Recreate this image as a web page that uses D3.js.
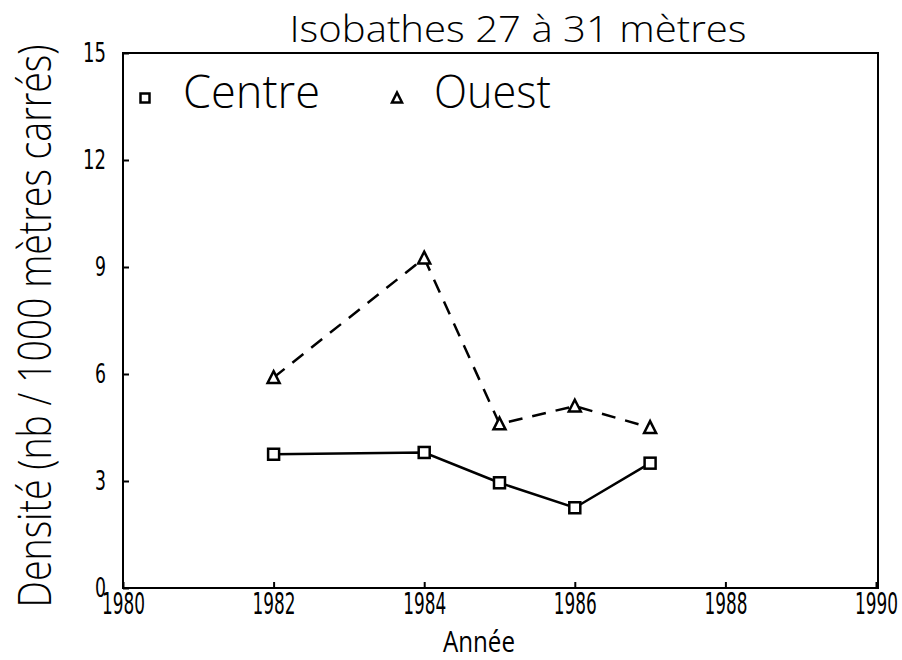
<!DOCTYPE html>
<html>
<head>
<meta charset="utf-8">
<script src="https://cdn.jsdelivr.net/npm/d3@7"></script>
<style>
  html, body { margin: 0; padding: 0; background: #fff; }
  svg { display: block; }
  text { font-family: "Open Sans", "DejaVu Sans Condensed", "DejaVu Sans", sans-serif; font-weight: 300; fill: #000; }
  .tk { font-family: "DejaVu Sans Condensed", "DejaVu Sans", sans-serif; font-weight: 400; }
</style>
</head>
<body>
<svg id="chart" width="902" height="660"></svg>
<script>
// ---- Data ----
const years = [1982, 1984, 1985, 1986, 1987];
const centre = [3.75, 3.8, 2.95, 2.25, 3.5];
const ouest  = [5.9, 9.25, 4.6, 5.1, 4.5];
const xTicks = [1980, 1982, 1984, 1986, 1988, 1990];
const yTicks = [0, 3, 6, 9, 12, 15];
const titleText = "Isobathes 27 à 31 mètres";
const xLabel = "Année";
const yLabel = "Densité (nb / 1000 mètres carrés)";
const legendNames = ["Centre", "Ouest"];

// ---- Layout ----
const svg = d3.select("#chart");
const pL = 123, pR = 878, pT = 53, pB = 588;

const x = d3.scaleLinear().domain([1980, 1990]).range([pL, pR - 2]);
const y = d3.scaleLinear().domain([0, 15]).range([pB, pT]);

// horizontally squeeze a text element to a target width, keeping its anchor x fixed
function squeeze(node, target) {
  const nat = node.getComputedTextLength();
  if (!nat) return;
  const s = target / nat;
  const x0 = +node.getAttribute("x") || 0;
  const prev = node.getAttribute("transform") || "";
  node.setAttribute("transform", `${prev} translate(${x0},0) scale(${s},1) translate(${-x0},0)`);
}

// frame
svg.append("rect")
  .attr("x", pL).attr("y", pT)
  .attr("width", pR - pL).attr("height", pB - pT)
  .attr("fill", "none").attr("stroke", "#000").attr("stroke-width", 2);

// y axis
const gy = svg.append("g").attr("transform", `translate(${pL},0)`)
  .call(d3.axisLeft(y).tickValues(yTicks).tickSizeInner(-6).tickSizeOuter(0).tickPadding(17).tickFormat(d3.format("d")));
gy.select(".domain").remove();
gy.selectAll(".tick line").attr("stroke", "#000").attr("stroke-width", 2);
gy.selectAll(".tick text")
  .attr("class", "tk")
  .attr("font-size", 27).attr("fill", "#000")
  .attr("dy", "0.30em")
  .each(function(d) { squeeze(this, String(d).length > 1 ? 23 : 11); });

// x axis
const gx = svg.append("g").attr("transform", `translate(0,${pB})`)
  .call(d3.axisBottom(x).tickValues(xTicks).tickSizeInner(-6).tickSizeOuter(0).tickPadding(5).tickFormat(d3.format("d")));
gx.select(".domain").remove();
gx.selectAll(".tick line").attr("stroke", "#000").attr("stroke-width", 2);
gx.selectAll(".tick text")
  .attr("class", "tk")
  .attr("font-size", 30).attr("fill", "#000")
  .each(function() { squeeze(this, 43); });

// title
svg.append("text")
  .attr("x", 518).attr("y", 42)
  .attr("text-anchor", "middle")
  .attr("font-size", 36)
  .text(titleText)
  .each(function() { squeeze(this, 457); });

// x label
svg.append("text")
  .attr("x", 479).attr("y", 652)
  .attr("text-anchor", "middle")
  .attr("font-size", 29)
  .style("font-weight", 400)
  .text(xLabel)
  .each(function() { squeeze(this, 72); });

// y label
svg.append("text")
  .attr("transform", "translate(51,326) rotate(-90)")
  .attr("text-anchor", "middle")
  .attr("font-size", 46)
  .text(yLabel)
  .each(function() { squeeze(this, 563); });

// lines
const lineGen = d3.line().x(d => x(d[0])).y(d => y(d[1]));
const centrePts = years.map((yr, i) => [yr, centre[i]]);
const ouestPts = years.map((yr, i) => [yr, ouest[i]]);

svg.append("path").datum(ouestPts)
  .attr("d", lineGen).attr("fill", "none").attr("stroke", "#000")
  .attr("stroke-width", 2.5).attr("stroke-dasharray", "14,10");
svg.append("path").datum(centrePts)
  .attr("d", lineGen).attr("fill", "none").attr("stroke", "#000")
  .attr("stroke-width", 2.5);

// markers
function square(g, cx, cy, s) {
  g.append("rect").attr("x", cx - s / 2).attr("y", cy - s / 2)
    .attr("width", s).attr("height", s)
    .attr("fill", "#fff").attr("stroke", "#000").attr("stroke-width", 2.5);
}
function triangle(g, cx, cy, s) {
  const h = s * 0.9;
  g.append("path")
    .attr("d", `M${cx},${cy - h / 2 - 1}L${cx + s / 2},${cy + h / 2}L${cx - s / 2},${cy + h / 2}Z`)
    .attr("fill", "#fff").attr("stroke", "#000").attr("stroke-width", 2.5).attr("stroke-linejoin", "miter");
}
const mk = svg.append("g");
centrePts.forEach(d => square(mk, x(d[0]), y(d[1]), 11));
ouestPts.forEach(d => triangle(mk, x(d[0]), y(d[1]), 12));

// legend
const lg = svg.append("g");
square(lg, 145, 98, 9);
lg.append("text").attr("x", 183).attr("y", 108)
  .attr("font-size", 46).text(legendNames[0])
  .each(function() { squeeze(this, 137); });
triangle(lg, 397, 98, 10);
lg.append("text").attr("x", 434).attr("y", 108)
  .attr("font-size", 46).text(legendNames[1])
  .each(function() { squeeze(this, 117); });
</script>
</body>
</html>
